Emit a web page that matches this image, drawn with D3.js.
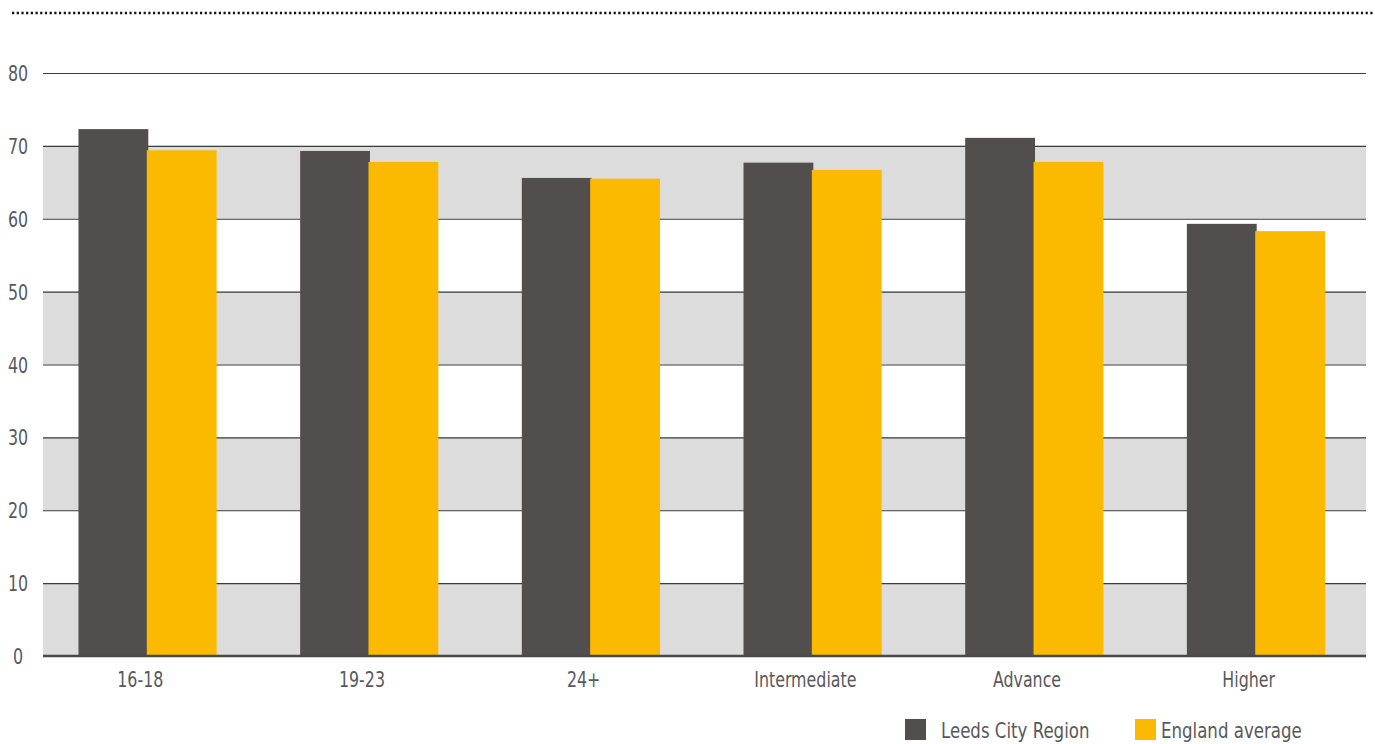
<!DOCTYPE html>
<html>
<head>
<meta charset="utf-8">
<script src="https://cdn.jsdelivr.net/npm/d3@7"></script>
<style>
  html, body { margin: 0; padding: 0; background: #fff; }
  svg { display: block; }
  text { font-family: "DejaVu Sans Condensed", "DejaVu Sans", sans-serif; fill: #58595b; }
</style>
</head>
<body>
<svg id="chart" width="1375" height="744"></svg>
<script>
// Categories and series
const categories = ["16-18", "19-23", "24+", "Intermediate", "Advance", "Higher"];
const seriesNames = ["Leeds City Region", "England average"];
const leeds = [72.3, 69.3, 65.6, 67.7, 71.1, 59.3];
const england = [69.4, 67.8, 65.5, 66.7, 67.8, 58.3];
const yTicks = [0, 10, 20, 30, 40, 50, 60, 70, 80];
const colors = ["#524e4d", "#fbb900"];

const svg = d3.select("#chart");
const margin = { left: 43, right: 9, top: 73, bottom: 88 };
const W = 1375, H = 744;
const SQUEEZE = 0.84; // narrow the lettering horizontally

const x = d3.scaleBand().domain(categories)
  .range([margin.left, W - margin.right - 4]).paddingInner(0.37).paddingOuter(0.16);
const x1 = d3.scaleBand().domain(seriesNames).range([0, x.bandwidth()]).padding(0);
const y = d3.scaleLinear().domain([0, 80]).range([H - margin.bottom, margin.top]);

function placeText(sel, fx, fy) {
  sel.attr("transform", (d, i) => `translate(${fx(d, i)},${fy(d, i)}) scale(${SQUEEZE},1)`);
}

// dotted rule across the top
svg.append("line")
  .attr("x1", 12).attr("x2", W).attr("y1", 13).attr("y2", 13)
  .attr("stroke", "#111").attr("stroke-width", 2.4)
  .attr("stroke-dasharray", "2.2,2.5");

// alternating grey bands
const bands = [[0, 10], [20, 30], [40, 50], [60, 70]];
svg.append("g").selectAll("rect").data(bands).join("rect")
  .attr("x", margin.left).attr("width", W - margin.right - margin.left)
  .attr("y", d => y(d[1])).attr("height", d => y(d[0]) - y(d[1]))
  .attr("fill", "#dcdcdc");

// gridlines
svg.append("g").selectAll("line").data(yTicks.filter(t => t > 0)).join("line")
  .attr("x1", margin.left).attr("x2", W - margin.right)
  .attr("y1", d => y(d) + 0.5).attr("y2", d => y(d) + 0.5)
  .attr("stroke", "#3d3b3b").attr("stroke-width", 1.2);

// y tick labels
svg.append("g").selectAll("text").data(yTicks).join("text")
  .attr("text-anchor", "middle").attr("font-size", 21)
  .call(placeText, () => 18, d => y(d) + 8)
  .text(d => d);

// bars
const rows = categories.map((c, i) => ({ cat: c, vals: [leeds[i], england[i]] }));
const groups = svg.append("g").selectAll("g").data(rows).join("g")
  .attr("transform", d => `translate(${x(d.cat)},0)`);
groups.selectAll("rect")
  .data(d => d.vals.map((v, j) => ({ name: seriesNames[j], v, j })))
  .join("rect")
  .attr("x", d => x1(d.name) - d.j * 1.5)
  .attr("width", x1.bandwidth())
  .attr("y", d => y(d.v))
  .attr("height", d => y(0) - y(d.v))
  .attr("fill", d => colors[d.j]);

// baseline
svg.append("line")
  .attr("x1", margin.left).attr("x2", W - margin.right)
  .attr("y1", y(0)).attr("y2", y(0))
  .attr("stroke", "#4a4848").attr("stroke-width", 2.4);

// x labels
svg.append("g").selectAll("text").data(categories).join("text")
  .attr("text-anchor", "middle").attr("font-size", 21)
  .call(placeText, d => x(d) + x.bandwidth() / 2 - 8, () => y(0) + 31)
  .text(d => d);

// legend
const legend = svg.append("g");
const legendPos = [905, 1135];
seriesNames.forEach((n, i) => {
  legend.append("rect").attr("x", legendPos[i]).attr("y", 719)
    .attr("width", 21).attr("height", 21).attr("fill", colors[i]);
  legend.append("text").attr("font-size", 22)
    .attr("transform", `translate(${legendPos[i] + (i === 0 ? 36 : 26)},738) scale(${SQUEEZE},1)`)
    .text(n);
});
</script>
</body>
</html>
